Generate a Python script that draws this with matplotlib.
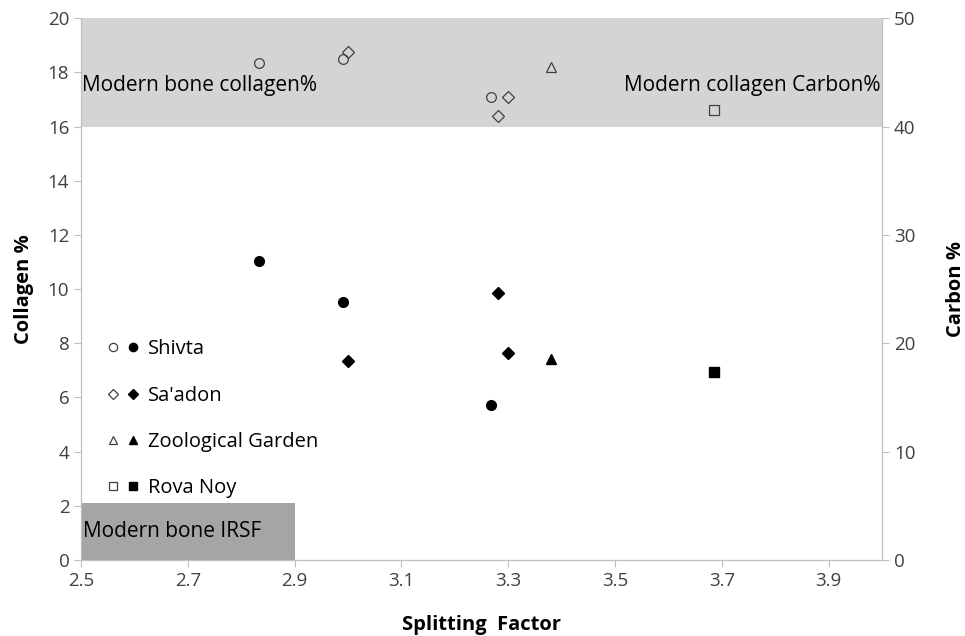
import matplotlib
matplotlib.use("Agg")
import matplotlib.pyplot as plt
from matplotlib.legend_handler import HandlerTuple
from matplotlib.patches import Rectangle

plt.rcParams["font.family"] = ["Open Sans", "DejaVu Sans"]

sites = ["Shivta", "Sa'adon", "Zoological Garden", "Rova Noy"]
markers = ["o", "D", "^", "s"]
sizes = [7, 6.5, 7, 7]

# splitting factor per sample, per site
sf = [
    [2.833, 2.99, 3.268],
    [3.0, 3.28, 3.30],
    [3.38],
    [3.686],
]
# collagen % (left axis, filled markers)
collagen = [
    [11.05, 9.52, 5.72],
    [7.34, 9.85, 7.64],
    [7.42],
    [6.94],
]
# carbon % (right axis, open markers)
carbon = [
    [45.9, 46.2, 42.75],
    [46.85, 41.0, 42.7],
    [45.5],
    [41.55],
]

xticks = [2.5, 2.7, 2.9, 3.1, 3.3, 3.5, 3.7, 3.9]
yticks_left = [0, 2, 4, 6, 8, 10, 12, 14, 16, 18, 20]
yticks_right = [0, 10, 20, 30, 40, 50]

grey = "#bfbfbf"
tickc = "#404040"

fig = plt.figure(figsize=(9.65, 6.36), dpi=100)
ax = fig.add_axes([0.084, 0.1195, 0.83, 0.852])
ax2 = ax.twinx()

ax.set_xlim(2.5, 4.0)
ax.set_ylim(0, 20)
ax2.set_ylim(0, 50)

# shaded reference bands
ax.add_patch(Rectangle((2.5, 16), 1.5, 4, facecolor="#d4d4d4", edgecolor="none", zorder=0))
ax.add_patch(Rectangle((2.5, 0), 0.4, 2.1, facecolor="#a5a5a5", edgecolor="none", zorder=0))
ax.text(2.501, 17.5, "Modern bone collagen%", fontsize=15, color="black", va="center", ha="left")
ax.text(3.998, 17.5, "Modern collagen Carbon%", fontsize=15, color="black", va="center", ha="right")
ax.text(2.503, 1.05, "Modern bone IRSF", fontsize=15, color="black", va="center", ha="left")

handles = []
for i in range(len(sites)):
    (f,) = ax.plot(sf[i], collagen[i], linestyle="none", marker=markers[i], ms=sizes[i],
                   color="black", zorder=3)
    (o,) = ax2.plot(sf[i], carbon[i], linestyle="none", marker=markers[i], ms=sizes[i],
                    markerfacecolor="none", markeredgecolor="#404040", markeredgewidth=0.9, zorder=3)
    handles.append((o, f))

ax.legend(handles, sites, handler_map={tuple: HandlerTuple(ndivide=None, pad=0.0)},
          loc="upper left", bbox_to_anchor=(0.0275, 0.407), frameon=False, fontsize=14.5,
          labelspacing=1.3, handlelength=2.0, handletextpad=0.25, borderaxespad=0,
          borderpad=0, markerscale=0.85)

ax.set_xticks(xticks)
ax.set_xticklabels([f"{v:.1f}" for v in xticks])
ax.set_yticks(yticks_left)
ax2.set_yticks(yticks_right)

for a in (ax, ax2):
    for s in a.spines.values():
        s.set_color(grey)
    a.spines["top"].set_visible(False)
    a.tick_params(colors=grey, labelcolor=tickc, labelsize=13.5, length=5, direction="out")

ax.set_xlabel("Splitting  Factor", fontsize=14.5, fontweight="bold", labelpad=18)
ax.set_ylabel("Collagen %", fontsize=14.5, fontweight="bold", labelpad=10)
ax2.set_ylabel("Carbon %", fontsize=14.5, fontweight="bold", rotation=90, labelpad=22)

fig.savefig("out.png", dpi=100)
